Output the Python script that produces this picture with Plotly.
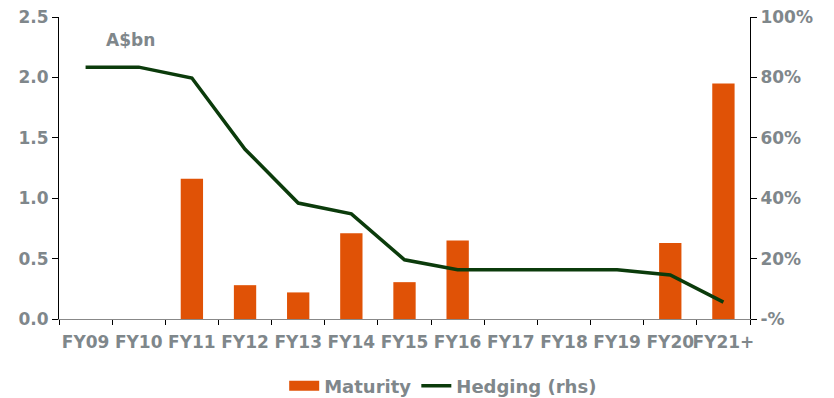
import plotly.graph_objects as go

categories = ["FY09", "FY10", "FY11", "FY12", "FY13", "FY14", "FY15", "FY16",
              "FY17", "FY18", "FY19", "FY20", "FY21+"]
maturity = [0, 0, 1.16, 0.28, 0.22, 0.71, 0.305, 0.65, 0, 0, 0, 0.63, 1.95]
hedging = [83.4, 83.4, 79.8, 56.2, 38.4, 34.8, 19.6, 16.3, 16.3, 16.3, 16.3, 14.6, 5.6]

left_ticks = [0, 0.5, 1.0, 1.5, 2.0, 2.5]
left_labels = ["0.0", "0.5", "1.0", "1.5", "2.0", "2.5"]
right_ticks = [0, 20, 40, 60, 80, 100]
right_labels = ["-%", "20%", "40%", "60%", "80%", "100%"]

GREY = "#7F878B"
ORANGE = "#E05206"
GREEN = "#0B3B0B"
TF = dict(family="DejaVu Sans", size=17, color=GREY)
LF = dict(family="DejaVu Sans", size=18, color=GREY)

fig = go.Figure()
fig.add_trace(go.Bar(x=categories, y=maturity, name="Maturity", showlegend=False,
                     marker=dict(color=ORANGE, line=dict(width=0)),
                     width=0.42, yaxis="y"))
# legend swatch for the bars (wide rectangle as in the reference)
fig.add_trace(go.Scatter(x=[None], y=[None], name="<b>Maturity</b>", mode="lines",
                         line=dict(color=ORANGE, width=13), yaxis="y"))
fig.add_trace(go.Scatter(x=categories, y=hedging, name="<b>Hedging (rhs)</b>",
                         mode="lines", line=dict(color=GREEN, width=3.5),
                         yaxis="y2"))

fig.update_layout(
    template="none",
    width=834, height=398,
    margin=dict(l=59, r=84, t=17, b=79, autoexpand=False),
    plot_bgcolor="white", paper_bgcolor="white",
    font=TF,
    showlegend=True,
    legend=dict(orientation="h", x=0.556, xanchor="center", yref="container",
                y=0.03, yanchor="middle", font=LF, bgcolor="rgba(0,0,0,0)"),
    xaxis=dict(type="category", tickson="boundaries", ticks="outside", ticklen=5,
               tickcolor="black", showline=True, linecolor="#888888", linewidth=1,
               showgrid=False, tickfont=TF, tickangle=0, automargin=False,
               ticklabelstandoff=8,
               tickprefix="<b>", ticksuffix="</b>", range=[-0.5, 12.5]),
    yaxis=dict(range=[0, 2.5], tickvals=left_ticks,
               ticktext=["<b>%s</b>" % t for t in left_labels],
               ticks="outside", ticklen=6, tickcolor="black", showline=True,
               linecolor="black", linewidth=1, showgrid=False, zeroline=False,
               tickfont=TF, automargin=False),
    yaxis2=dict(range=[0, 100], tickvals=right_ticks,
                ticktext=["<b>%s</b>" % t for t in right_labels],
                overlaying="y", side="right", ticks="outside", ticklen=6, tickcolor="black",
                showline=True, linecolor="black", linewidth=1, showgrid=False, zeroline=False,
                tickfont=TF, automargin=False),
    annotations=[dict(text="<b>A$bn</b>", x=0.103, y=0.925, xref="paper", yref="paper",
                      showarrow=False, xanchor="center", yanchor="middle", font=TF)],
)

fig.write_html("out.html")
